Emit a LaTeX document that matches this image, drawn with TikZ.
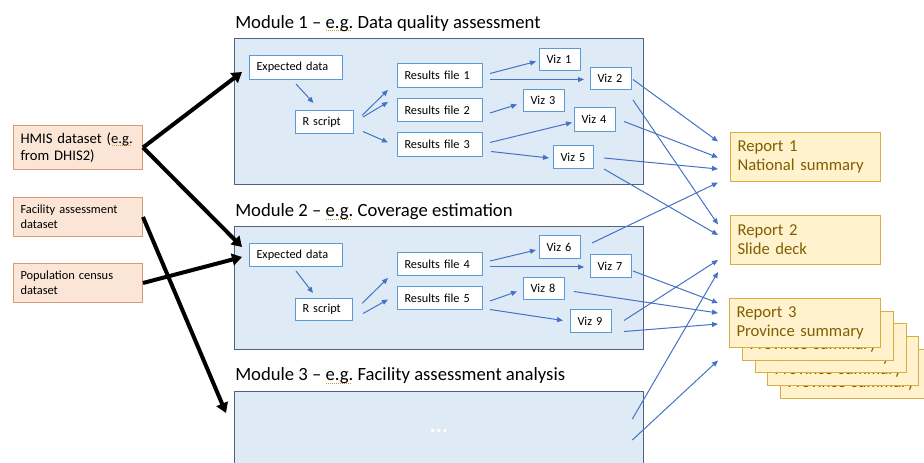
\documentclass[tikz,border=0pt]{standalone}
\usepackage{fontspec}
\setmainfont{Carlito}
\usetikzlibrary{arrows.meta,calc}
\definecolor{modfill}{HTML}{DEEBF7}
\definecolor{modline}{HTML}{4F6282}
\definecolor{boxline}{HTML}{5B9BD5}
\definecolor{arr}{HTML}{4472C4}
\definecolor{srcfill}{HTML}{FBE5D6}
\definecolor{srcline}{HTML}{D99A74}
\definecolor{repfill}{HTML}{FFF2CC}
\definecolor{repline}{HTML}{D9AE40}
\definecolor{reptext}{HTML}{7F6000}
\definecolor{squig}{HTML}{C8963C}
\newcommand\spellmark[1]{\setbox0=\hbox{#1}\rlap{\color{squig}\raisebox{-2.3pt}{\leaders\hbox to 1.5pt{\hss\rule{0.7pt}{0.7pt}\hss}\hskip\wd0}}\box0\relax}
\newcommand\bx[7][]{\pgfmathsetmacro\bxw{(#5-#3-14)*0.75}\pgfmathsetmacro\bxh{(#6-#4)*0.75}\node[#1, anchor=north west, text width=\bxw pt, minimum height=\bxh pt] (#2) at (#3,#4) {#7};}
\tikzset{
  modbox/.style={draw=modline, fill=modfill, line width=1pt, inner xsep=5.25pt, inner ysep=0pt},
  ibox/.style={draw=boxline, fill=white, line width=0.75pt, font=\fontsize{9.2}{11}\selectfont, inner xsep=5.25pt, inner ysep=0pt, align=left},
  srcbox/.style={draw=srcline, fill=srcfill, line width=0.75pt, inner xsep=5.25pt, inner ysep=0pt, align=left},
  repbox/.style={draw=repline, fill=repfill, line width=0.75pt, inner xsep=5.25pt, inner ysep=0pt, align=left, text=reptext, font=\fontsize{12.5}{14.3}\selectfont},
  modtitle/.style={anchor=base west, inner sep=0pt, font=\fontsize{14}{17}\selectfont},
  conn/.style={draw=arr, line width=0.75pt, -{Triangle[length=4.5pt, width=3.75pt]}},
  bigconn/.style={draw=black, line width=3pt, -{Triangle[length=7.5pt, width=9pt]}},
  dotmark/.style={fill=white, minimum size=2.6pt, inner sep=0pt},
}
\begin{document}
\begin{tikzpicture}[x=0.75pt, y=-0.75pt]
\useasboundingbox (0,0) rectangle (924,463);
\clip (0,0) rectangle (924,463);
% titles
\node[modtitle] (t1) at (235,28.3) {Module 1 -- \spellmark{e.g.} Data quality assessment};
\node[modtitle] (t2) at (235,216.7) {Module 2 -- \spellmark{e.g.} Coverage estimation};
\node[modtitle] (t3) at (235,380.7) {Module 3 -- \spellmark{e.g.} Facility assessment analysis};
% module boxes
\bx[modbox]{m1}{234}{38}{643}{184}{}
\bx[modbox]{m2}{234}{226}{643}{349}{}
\bx[modbox]{m3}{234}{391}{643}{478}{}
\node[text=white, font=\fontsize{17}{19}\selectfont\bfseries, inner sep=0pt] (dots) at (439,431) {...};
% sources
\bx[srcbox, font=\fontsize{11}{13.2}\selectfont]{hmis}{13}{125}{142}{169}{HMIS dataset (\spellmark{e.g.}\\from DHIS2)}
\bx[srcbox, font=\fontsize{9.3}{11.3}\selectfont]{fac}{13}{197}{142}{236}{Facility assessment\\dataset}
\bx[srcbox, font=\fontsize{9.3}{11.3}\selectfont]{pop}{13}{263}{142}{302}{Population census\\dataset}
% module 1 content
\bx[ibox]{e1}{249}{55}{342}{79}{Expected data}
\bx[ibox]{r1}{295}{110}{353}{133}{R script}
\bx[ibox]{f1}{397}{63}{482}{87}{Results file 1}
\bx[ibox]{f2}{397}{98}{482}{121}{Results file 2}
\bx[ibox]{f3}{397}{132}{482}{156}{Results file 3}
\bx[ibox]{v1}{539}{48}{580}{70}{Viz 1}
\bx[ibox]{v2}{590}{67}{631}{89}{Viz 2}
\bx[ibox]{v3}{523}{89}{564}{111}{Viz 3}
\bx[ibox]{v4}{574}{107}{615}{131}{Viz 4}
\bx[ibox]{v5}{553}{145}{593}{168}{Viz 5}
% module 2 content
\bx[ibox]{e2}{249}{243}{342}{266}{Expected data}
\bx[ibox]{r2}{295}{298}{352}{320}{R script}
\bx[ibox]{f4}{397}{252}{482}{275}{Results file 4}
\bx[ibox]{f5}{397}{286}{482}{309}{Results file 5}
\bx[ibox]{v6}{539}{235}{580}{258}{Viz 6}
\bx[ibox]{v7}{590}{254}{631}{277}{Viz 7}
\bx[ibox]{v8}{523}{277}{564}{299}{Viz 8}
\bx[ibox]{v9}{570}{309}{611}{332}{Viz 9}
% reports
\bx[repbox]{rep1}{730}{132}{880}{181}{Report 1\\National summary}
\bx[repbox]{rep2}{730}{215}{880}{264}{Report 2\\Slide deck}
\bx[repbox]{rep3d}{780}{349}{931}{398}{Report 3\\Province summary}
\bx[repbox]{rep3c}{767}{336}{918}{385}{Report 3\\Province summary}
\bx[repbox]{rep3b}{755}{323}{906}{372}{Report 3\\Province summary}
\bx[repbox]{rep3a}{742}{311}{893}{360}{Report 3\\Province summary}
\bx[repbox]{rep3}{729}{298}{880}{347}{Report 3\\Province summary}
% module 1 arrows
\draw[conn] ($(e1.south)+(0,4)$) -- ($(r1.north)+(-11,-7)$);
\draw[conn] ($(r1.east)+(8,-6.5)$) -- ($(f1.south west)+(-9,2)$);
\draw[conn] ($(r1.east)+(9,-5)$) -- ($(f2.west)+(-9,-8)$);
\draw[conn] ($(r1.east)+(9,9.5)$) -- ($(f3.west)+(-9,-2)$);
\draw[conn] ($(f1.east)+(7,-2)$) -- ($(v1.west)+(-3,2)$);
\draw[conn] ($(f1.east)+(7,4)$) -- ($(v2.west)+(-6,1)$);
\draw[conn] ($(f2.east)+(7,3)$) -- ($(v3.west)+(-6,4)$);
\draw[conn] ($(f3.east)+(7,-2)$) -- ($(v4.west)+(-2,3)$);
\draw[conn] ($(f3.east)+(8,7)$) -- ($(v5.west)+(-4,1)$);
% module 2 arrows
\draw[conn] ($(e2.south)+(0,4)$) -- ($(r2.north)+(-11,-5)$);
\draw[conn] ($(r2.east)+(9,-6)$) -- ($(f4.south west)+(-9,2)$);
\draw[conn] ($(r2.east)+(10,4)$) -- ($(f5.west)+(-9,1.5)$);
\draw[conn] ($(f4.east)+(7,-3)$) -- ($(v6.west)+(-3,3)$);
\draw[conn] ($(f4.east)+(7,3)$) -- ($(v7.west)+(-6,1)$);
\draw[conn] ($(f5.east)+(7,3)$) -- ($(v8.west)+(-6,3)$);
\draw[conn] ($(f5.east)+(7,11.5)$) -- ($(v9.west)+(-7,-0.5)$);
% report arrows
\draw[conn] ($(v2.east)+(1,1)$) -- ($(rep1.west)+(-12,-15.5)$);
\draw[conn] ($(v4.east)+(8,2)$) -- ($(rep1.west)+(-12,0.5)$);
\draw[conn] ($(v5.east)+(10,1)$) -- ($(rep1.west)+(-12,12)$);
\draw[conn] ($(v6.east)+(11,-4)$) -- ($(rep1.west)+(-12,25.5)$);
\draw[conn] ($(v2.south east)+(1,10)$) -- ($(rep2.west)+(-12,-15.5)$);
\draw[conn] ($(v5.east)+(10,12)$) -- ($(rep2.west)+(-12,-5)$);
\draw[conn] ($(v9.east)+(12,-0.5)$) -- ($(rep2.west)+(-12,20)$);
\draw[conn] ($(m3.north east)+(-12,28)$) -- ($(rep2.west)+(-12,32)$);
\draw[conn] ($(v7.east)+(1,5)$) -- ($(rep3.west)+(-11,-20)$);
\draw[conn] ($(v8.east)+(9,3)$) -- ($(rep3.west)+(-11,-10)$);
\draw[conn] ($(v9.east)+(12,10.5)$) -- ($(rep3.west)+(-11,1)$);
\draw[conn] ($(m3.north east)+(-12,49)$) -- ($(rep3.west)+(-11,37.5)$);
% thick input arrows
\draw[bigconn] (hmis.east) -- ($(m1.north west)+(8,34)$);
\draw[bigconn] (hmis.east) -- ($(m2.north west)+(8,21)$);
\draw[bigconn] (pop.east) -- ($(m2.north west)+(8,31)$);
\draw[bigconn] (fac.east) -- ($(m3.north west)+(-8,22)$);
\end{tikzpicture}
\end{document}
